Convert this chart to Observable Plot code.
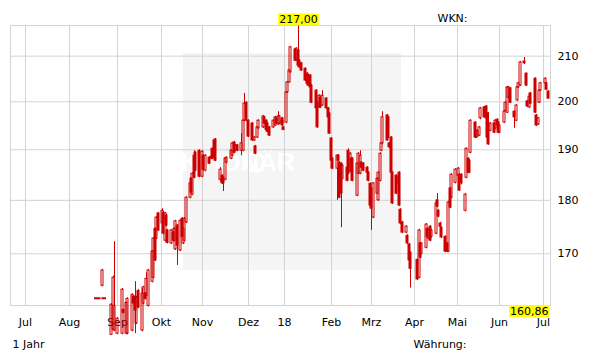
<!DOCTYPE html>
<html>
<head>
<meta charset="utf-8">
<script src="https://cdn.jsdelivr.net/npm/d3@7"></script>
<script src="https://cdn.jsdelivr.net/npm/@observablehq/plot@0.6"></script>
<style>
  body { margin: 0; background: #fff; }
  #chart svg { display: block; }
</style>
</head>
<body>
<div id="chart"></div>
<script>
// ---- data ----
const dates = [
"2017-08-22","2017-08-28","2017-08-29","2017-08-30","2017-09-01","2017-09-04","2017-09-05","2017-09-07","2017-09-08","2017-09-11",
"2017-09-12","2017-09-13","2017-09-14","2017-09-15","2017-09-18","2017-09-19","2017-09-20","2017-09-21","2017-09-22","2017-09-25",
"2017-09-26","2017-09-27","2017-09-28","2017-09-29","2017-10-02","2017-10-03","2017-10-04","2017-10-05","2017-10-06","2017-10-09",
"2017-10-10","2017-10-11","2017-10-12","2017-10-13","2017-10-16","2017-10-17","2017-10-18","2017-10-19","2017-10-20","2017-10-23",
"2017-10-24","2017-10-25","2017-10-26","2017-10-27","2017-10-30","2017-11-01","2017-11-02","2017-11-03","2017-11-06","2017-11-07",
"2017-11-08","2017-11-09","2017-11-10","2017-11-13","2017-11-14","2017-11-15","2017-11-16","2017-11-17","2017-11-20","2017-11-21",
"2017-11-22","2017-11-23","2017-11-24","2017-11-27","2017-11-28","2017-11-29","2017-11-30","2017-12-01","2017-12-04","2017-12-05",
"2017-12-06","2017-12-07","2017-12-08","2017-12-11","2017-12-12","2017-12-13","2017-12-14","2017-12-15","2017-12-18","2017-12-19",
"2017-12-20","2017-12-21","2017-12-22","2017-12-27","2017-12-28","2017-12-29","2018-01-02","2018-01-03","2018-01-04","2018-01-05",
"2018-01-08","2018-01-09","2018-01-10","2018-01-11","2018-01-12","2018-01-15","2018-01-16","2018-01-17","2018-01-18","2018-01-19",
"2018-01-22","2018-01-23","2018-01-24","2018-01-25","2018-01-26","2018-01-29","2018-01-30","2018-01-31","2018-02-01","2018-02-02",
"2018-02-05","2018-02-06","2018-02-07","2018-02-08","2018-02-09","2018-02-12","2018-02-13","2018-02-14","2018-02-15","2018-02-16",
"2018-02-19","2018-02-20","2018-02-21","2018-02-22","2018-02-23","2018-02-26","2018-02-27","2018-02-28","2018-03-01","2018-03-02",
"2018-03-05","2018-03-06","2018-03-07","2018-03-08","2018-03-09","2018-03-12","2018-03-13","2018-03-14","2018-03-15","2018-03-16",
"2018-03-19","2018-03-20","2018-03-21","2018-03-22","2018-03-23","2018-03-26","2018-03-27","2018-03-28","2018-03-29","2018-04-03",
"2018-04-04","2018-04-05","2018-04-06","2018-04-09","2018-04-10","2018-04-11","2018-04-12","2018-04-13","2018-04-16","2018-04-17",
"2018-04-18","2018-04-19","2018-04-20","2018-04-23","2018-04-24","2018-04-25","2018-04-26","2018-04-27","2018-04-30","2018-05-02",
"2018-05-03","2018-05-04","2018-05-07","2018-05-08","2018-05-09","2018-05-10","2018-05-11","2018-05-14","2018-05-15","2018-05-16",
"2018-05-17","2018-05-18","2018-05-21","2018-05-22","2018-05-23","2018-05-24","2018-05-25","2018-05-28","2018-05-29","2018-05-30",
"2018-05-31","2018-06-01","2018-06-04","2018-06-05","2018-06-06","2018-06-07","2018-06-08","2018-06-11","2018-06-12","2018-06-13",
"2018-06-14","2018-06-15","2018-06-18","2018-06-19","2018-06-20","2018-06-21","2018-06-22","2018-06-25","2018-06-26","2018-06-27",
"2018-06-28","2018-06-29","2018-07-02","2018-07-03","2018-07-04"
];
const open = [
164.3,155.9,156.8,156.6,156.1,156.1,160.1,156.1,156.1,156.6,
162.4,162.4,157.8,163.4,156.6,161.2,162.9,162.5,160.8,165.0,
165.7,174.6,172.8,177.5,175.6,177.6,172.4,177.1,174.3,171.9,
173.9,172.4,170.8,175.2,170.6,176.5,171.9,172.4,175.8,180.5,
184.2,181.1,188.8,189.4,189.8,184.6,188.8,185.8,188.4,188.2,
190.2,191.9,192.1,184.0,184.8,184.4,184.0,187.4,188.2,188.8,
191.5,189.8,190.9,189.8,189.8,196.0,199.8,196.0,195.4,191.9,
190.7,192.5,194.4,194.6,196.7,196.0,195.4,194.6,194.6,195.0,
196.5,195.2,195.4,196.5,196.0,194.6,195.6,202.0,204.2,206.4,
211.5,209.0,211.3,209.0,208.4,207.2,206.1,205.7,205.7,203.5,
202.4,199.8,198.8,200.9,199.2,200.7,198.6,197.5,192.3,188.2,
186.2,188.8,187.4,187.2,184.2,186.4,189.8,185.6,188.2,188.2,
180.9,185.2,185.2,187.4,187.2,186.4,185.4,183.2,182.3,176.7,
181.3,180.0,183.8,189.8,191.3,197.1,196.7,191.3,192.5,185.4,
184.8,183.3,185.4,178.2,175.8,173.9,173.3,171.7,170.2,168.9,
165.7,171.9,170.0,171.1,174.6,172.8,175.0,173.1,173.7,180.0,
178.0,175.6,174.8,173.1,171.9,170.4,182.3,180.5,183.4,184.8,
185.0,185.0,178.0,184.4,188.2,187.8,189.4,195.6,192.5,192.7,
192.9,196.5,198.8,199.0,197.5,195.4,193.9,195.4,194.4,196.2,
195.6,193.5,195.6,198.1,197.7,200.9,202.9,197.9,196.0,200.3,
203.1,203.5,208.8,206.1,200.1,198.8,201.8,205.0,197.1,195.2,
199.8,202.4,204.0,204.0,202.2
];
const high = [
167.2,161.2,166.0,172.2,158.8,163.8,160.3,161.5,162.2,162.9,
162.6,165.0,162.4,163.6,163.8,164.2,163.1,166.6,167.2,170.6,
173.0,174.8,176.9,177.7,178.4,177.9,177.7,177.3,174.5,174.5,
174.1,174.8,176.2,175.4,176.3,176.7,174.8,176.7,180.7,184.4,
184.4,185.4,189.8,189.6,190.0,189.8,189.0,189.0,188.6,188.8,
190.4,192.1,192.3,186.4,185.0,184.6,188.4,188.6,190.0,191.5,
191.7,191.1,191.1,193.3,196.2,201.8,200.0,196.2,195.6,192.7,
190.9,194.8,196.2,197.1,196.9,196.2,195.6,194.8,196.2,196.9,
196.7,197.9,197.1,196.7,196.2,194.8,202.2,204.4,207.0,212.2,
211.7,211.9,217.0,209.2,208.6,207.4,206.3,205.9,205.9,203.7,
202.6,200.0,201.5,201.1,202.4,200.9,198.8,197.7,192.5,188.4,
189.0,189.0,187.6,187.4,187.0,186.6,190.2,189.4,188.4,188.4,
187.4,189.4,189.8,187.6,187.4,186.6,185.6,183.4,182.5,183.4,
184.4,185.6,189.4,191.5,197.9,197.3,196.9,191.5,192.7,185.6,
185.0,184.6,185.6,178.4,176.0,175.2,173.5,171.9,170.4,169.1,
174.5,172.0,172.0,175.6,174.8,174.5,175.2,174.5,179.6,181.3,
178.2,175.8,175.0,173.3,172.0,179.8,182.5,185.2,186.2,186.4,
185.2,185.2,181.3,190.4,188.4,188.0,196.2,195.8,193.9,194.1,
194.8,198.8,199.0,199.2,197.7,197.7,195.6,195.6,196.2,196.4,
195.8,195.2,198.1,200.0,203.3,203.3,203.1,198.1,199.4,203.3,
204.2,208.8,209.7,206.3,200.3,201.3,202.0,205.2,197.3,196.7,
202.6,204.2,205.2,204.2,202.4
];
const low = [
164.1,155.8,156.6,156.4,155.9,155.9,159.4,155.9,155.9,156.4,
161.0,156.1,157.6,160.3,156.4,161.0,161.8,162.4,160.6,164.8,
165.5,168.6,172.6,174.1,175.4,173.5,172.2,175.0,171.8,171.7,
172.2,172.2,170.6,167.9,170.4,172.9,171.7,172.2,175.6,180.3,
181.3,180.9,184.2,185.6,184.4,184.4,185.8,185.6,187.0,188.0,
188.0,188.2,187.6,183.6,183.1,181.7,183.8,187.2,188.0,188.6,
189.2,189.6,189.6,188.8,189.6,195.8,195.8,192.5,191.7,191.7,
189.0,192.3,194.2,194.4,195.2,193.9,193.5,192.7,194.4,194.8,
195.2,195.0,195.2,195.2,194.8,193.9,195.4,201.8,204.0,206.2,
208.8,208.8,207.7,207.3,206.6,204.4,203.7,203.3,202.9,199.6,
198.4,194.4,198.6,198.6,199.0,198.4,196.5,193.1,187.6,186.0,
180.0,187.6,180.3,174.8,184.0,183.6,185.0,185.4,185.4,183.6,
180.7,185.0,185.0,186.2,185.6,185.2,183.6,178.8,174.3,176.5,
181.1,179.8,183.6,189.6,191.0,191.7,192.3,190.2,185.2,179.2,
181.1,183.0,178.8,175.4,173.7,173.7,171.7,168.6,163.9,165.2,
165.5,169.1,169.8,170.9,172.9,172.6,172.2,172.9,173.5,178.6,
176.7,174.8,172.8,170.2,170.2,170.2,178.4,180.3,183.2,184.6,
181.7,183.0,177.8,184.2,185.2,185.2,189.2,192.3,192.3,192.5,
192.7,196.2,196.5,196.2,192.3,190.9,193.7,193.3,194.2,194.8,
193.3,193.3,195.4,197.9,197.5,200.7,199.6,194.4,195.8,200.1,
202.9,203.3,208.1,203.3,198.8,198.6,199.4,197.5,194.8,195.0,
199.6,202.2,203.7,202.4,200.5
];
const close = [
167.0,161.0,165.7,160.8,158.6,163.6,159.6,161.3,162.0,162.7,
161.2,160.0,162.2,160.5,162.9,164.0,162.0,165.5,167.0,170.4,
172.8,168.8,176.7,174.3,178.0,173.7,177.5,175.2,172.0,174.3,
172.4,174.6,176.0,171.5,176.1,173.1,174.6,176.5,180.5,183.3,
181.5,185.2,184.4,185.8,184.6,189.6,186.0,188.8,187.2,188.6,
188.2,188.4,187.8,186.0,183.3,183.3,188.2,188.4,189.8,191.3,
189.4,190.9,189.8,191.3,196.0,199.6,196.0,192.7,191.9,192.5,
189.2,194.6,196.0,196.9,195.4,194.1,193.7,192.9,196.0,196.7,
195.4,196.9,196.9,195.4,195.0,194.1,202.0,204.2,206.8,212.0,
209.0,211.7,207.9,207.5,206.8,204.6,203.9,203.5,203.1,199.8,
198.6,194.6,201.3,198.8,201.3,198.6,196.7,193.3,187.8,186.2,
188.8,187.8,180.5,181.3,186.8,183.8,185.2,189.2,185.6,183.8,
187.2,189.2,188.8,186.4,185.8,185.4,183.8,179.0,178.4,183.3,
184.2,185.4,189.2,191.3,196.7,191.9,192.5,190.5,185.4,179.4,
181.3,184.4,179.0,175.6,173.9,175.0,171.9,168.8,167.3,165.4,
174.3,169.3,171.9,175.4,173.1,174.3,172.4,174.3,179.4,178.8,
176.9,175.0,173.0,170.4,170.4,179.6,178.6,185.0,186.0,186.2,
181.9,183.3,181.1,190.2,185.4,185.4,196.0,192.5,193.7,193.9,
194.6,198.6,196.7,196.5,192.5,191.1,195.4,193.5,196.0,195.0,
193.5,195.0,197.9,199.8,203.1,203.1,199.8,196.7,199.2,203.1,
204.0,208.6,208.4,203.5,199.0,201.1,199.6,197.7,195.0,196.5,
202.4,204.0,205.0,202.6,200.7
];

const monthTicks = ["2017-07-01","2017-08-01","2017-09-01","2017-10-01","2017-11-01","2017-12-01",
                    "2018-01-01","2018-02-01","2018-03-01","2018-04-01","2018-05-01","2018-06-01","2018-07-01"];
const monthLabels = ["Jul","Aug","Sep","Okt","Nov","Dez","18","Feb","Mrz","Apr","Mai","Jun","Jul"];
const yTicks = [170, 180, 190, 200, 210];
const axisLow = 160.86;
const axisHigh = 217.00;
const dashValue = 162.1;
const dashFrom = "2017-08-17";
const dashTo = "2017-08-25";
const headerText = "WKN:";
const periodText = "1 Jahr";
const currencyText = "Währung:";
const watermarkText = "DER AKTIONÄR";

// ---- build ----
const red = "#cc0000";
const gridColor = "#d3d3d3";
const candles = dates.map((d, i) => ({date: new Date(d), open: open[i], high: high[i], low: low[i], close: close[i]}));
const up = candles.filter(d => d.close >= d.open);
const down = candles.filter(d => d.close < d.open);
const tickDates = monthTicks.map(d => new Date(d));
const iMax = d3.maxIndex(high);
const peak = [{date: candles[iMax].date, value: high[iMax]}];
const fmt = v => v.toFixed(2).replace(".", ",");

// piecewise time scale mimicking the trading-day axis of the original
const xAnchors = ["2017-06-20","2017-07-01","2017-08-01","2017-09-01","2017-10-01","2017-11-01","2017-12-01",
  "2017-12-22","2018-01-01","2018-02-01","2018-03-01","2018-04-01","2018-05-01","2018-06-01","2018-07-01","2018-07-05T12:00"].map(d => new Date(d));
const xPixels = [10, 25.3, 69.3, 117.3, 160.6, 201.7, 247.5, 279, 284.4, 330.7, 371.3, 414.3, 456.7, 499.4, 543.4, 550];

const chart = Plot.plot({
  width: 611,
  height: 364,
  marginLeft: 10,
  marginRight: 61,
  marginTop: 25,
  marginBottom: 59,
  style: {fontFamily: "'DejaVu Sans', Verdana, sans-serif", fontSize: "11px", color: "#000", background: "#fff", overflow: "visible"},
  x: {type: "utc", domain: xAnchors, range: xPixels, round: true},
  y: {type: "log", domain: [axisLow, axisHigh]},
  marks: [
    Plot.gridX(tickDates, {stroke: gridColor, strokeOpacity: 1}),
    Plot.gridY(yTicks, {stroke: gridColor, strokeOpacity: 1}),
    Plot.frame({stroke: gridColor}),
    Plot.axisX(tickDates, {tickSize: 0, tickPadding: 13, label: null, fill: "#000",
      tickFormat: d => monthLabels[tickDates.findIndex(t => +t === +d)]}),
    Plot.axisY(yTicks, {anchor: "right", tickSize: 0, tickPadding: 7, label: null, fill: "#000",
      tickFormat: d => String(d)}),
    Plot.ruleY([dashValue], {x1: () => new Date(dashFrom), x2: () => new Date(dashTo), y: d => d,
      stroke: red, strokeWidth: 2, strokeDasharray: "6.5,1"}),
    // wicks (upper and lower parts)
    Plot.ruleX(candles, {x: "date", y1: "high", y2: d => Math.max(d.open, d.close), stroke: red, strokeWidth: 1}),
    Plot.ruleX(candles, {x: "date", y1: d => Math.min(d.open, d.close), y2: "low", stroke: red, strokeWidth: 1}),
    // bodies
    Plot.rect(up, {x1: "date", x2: "date", y1: "open", y2: "close", insetLeft: -1, insetRight: -1,
      stroke: red, strokeWidth: 1, fill: "none"}),
    Plot.rect(down, {x1: "date", x2: "date", y1: "open", y2: "close", insetLeft: -1, insetRight: -1,
      stroke: red, strokeWidth: 1, fill: red}),
    // labels
    Plot.text(peak, {x: "date", y: "value", text: d => fmt(d.value), dy: -6, fill: "#000"}),
    Plot.text([axisLow], {y: d => d, frameAnchor: "right", text: d => fmt(d), dx: -2, dy: 5.5, fill: "#000"}),
    Plot.text([headerText], {frameAnchor: "top-right", text: d => d, dx: -113, dy: -11, textAnchor: "start", fill: "#000"}),
    Plot.text([periodText], {frameAnchor: "bottom-left", text: d => d, dx: 2, dy: 42, textAnchor: "start", fill: "#000"}),
    Plot.text([currencyText], {frameAnchor: "bottom-right", text: d => d, dx: -137, dy: 42, textAnchor: "start", fill: "#000"})
  ]
});

document.getElementById("chart").appendChild(chart);

// watermark background (decoration behind the grid)
const svg = d3.select(chart);
const firstG = chart.querySelector("g");
const wm = d3.create("svg:g").attr("aria-hidden", "true");
wm.append("rect").attr("x", 183).attr("y", 53).attr("width", 218).attr("height", 217).attr("fill", "#f5f5f5");
wm.append("text")
  .style("font-family", "'Liberation Sans', Arial, sans-serif").style("font-weight", "bold").style("font-size", "25px")
  .style("word-spacing", "13px").attr("fill", "#fff").attr("x", 193).attr("y", 171)
  .text(watermarkText);
wm.append("circle").attr("cx", 255).attr("cy", 162).attr("r", 9).attr("fill", "none").attr("stroke", "#fff").attr("stroke-width", 3);
chart.insertBefore(wm.node(), firstG);

// yellow boxes behind the high / low value labels
svg.selectAll("text").each(function() {
  const t = this.textContent;
  if (t === fmt(high[iMax]) || t === fmt(axisLow)) {
    const b = this.getBBox();
    const g = this.parentNode;
    const r = document.createElementNS("http://www.w3.org/2000/svg", "rect");
    r.setAttribute("x", b.x - 1); r.setAttribute("y", b.y + 0.5);
    r.setAttribute("width", b.width + 2); r.setAttribute("height", b.height - 1);
    r.setAttribute("fill", "#ffff00");
    if (this.getAttribute("transform")) r.setAttribute("transform", this.getAttribute("transform"));
    g.insertBefore(r, this);
  }
});
</script>
</body>
</html>
